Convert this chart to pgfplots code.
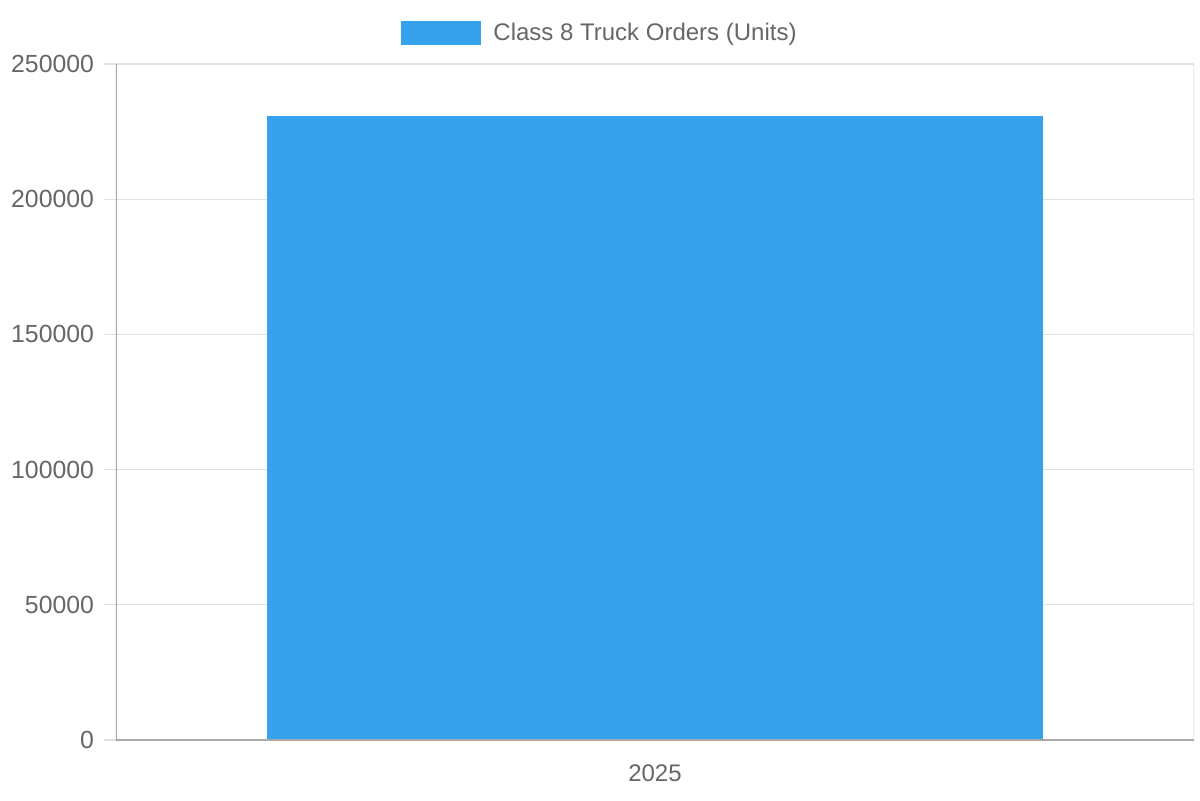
\documentclass[border=0pt]{standalone}
\usepackage{fontspec}
\setmainfont{Liberation Sans}
\usepackage{pgfplots}
\pgfplotsset{compat=1.18}
\definecolor{barblue}{HTML}{36A2EB}
\definecolor{txtgray}{HTML}{666666}
\definecolor{gridgray}{HTML}{E0E0E0}
\definecolor{axisgray}{HTML}{A8A8A8}
\begin{document}
\begin{tikzpicture}
\useasboundingbox (-58pt,-30pt) rectangle (542pt,370pt);
\begin{axis}[
scale only axis,
width=539pt,
height=338pt,
xmin=-0.5, xmax=0.5,
ymin=0, ymax=250000,
ytick={0,50000,100000,150000,200000,250000},
xtick={0},
xticklabels={2025},
font=\fontsize{12}{14}\selectfont,
tick label style={text=txtgray},
/pgf/number format/assume math mode=true,
/pgf/number format/fixed,
/pgf/number format/set thousands separator={},
scaled y ticks=false,
axis line style={draw=none},
ymajorgrids,
grid style={gridgray, line width=0.6pt},
ytick pos=left,
tick align=outside,
major tick length=6pt,
ytick style={gridgray, line width=0.6pt},
xtick style={draw=none},
yticklabel style={xshift=-1.5pt, font=\fontsize{12.4}{14}\selectfont},
xticklabel style={yshift=-3pt},
legend style={at={(0.5,1)}, anchor=south, xshift=-27pt, yshift=6pt, draw=none, fill=none,
  font=\fontsize{12}{14}\selectfont, text=txtgray},
legend image code/.code={\fill[#1] (0pt,-6pt) rectangle (40pt,6pt);},
legend cell align=left,
]
\addplot[ybar, bar width=388pt, fill=barblue, draw=none] coordinates {(0,230600)};
\addlegendentry{\hspace{4pt}Class 8 Truck Orders (Units)}
\draw[gridgray, line width=0.6pt] (rel axis cs:1,1) -- (rel axis cs:1,0) -- ++(0,-10pt);
\draw[axisgray, line width=1pt] (rel axis cs:0,0) -- (rel axis cs:1,0);
\draw[axisgray, line width=1pt] (rel axis cs:0,1) -- (rel axis cs:0,0) -- ++(0,-10pt);
\end{axis}
\end{tikzpicture}
\end{document}
